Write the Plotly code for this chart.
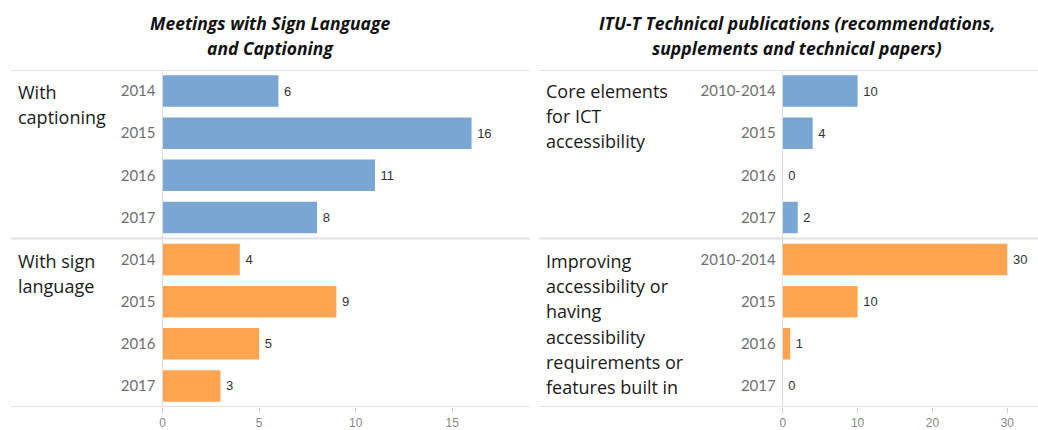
import plotly.graph_objects as go

# ---- data ----
meet_years = ["2014", "2015", "2016", "2017"]
with_captioning = [6, 16, 11, 8]
with_sign_language = [4, 9, 5, 3]

pub_periods = ["2010-2014", "2015", "2016", "2017"]
core_elements = [10, 4, 0, 2]
improving_access = [30, 10, 1, 0]

left_groups = ["With captioning", "With sign language"]
right_groups = ["Core elements", "Improving"]

left_ticks = [0, 5, 10, 15]
right_ticks = [0, 10, 20, 30]

BLUE = "#7aa6d4"
ORANGE = "#ffa552"
GRID = "#e2e2e2"
W, H = 1038, 430
TOP, BOT = 70, 407

def keys(group, cats):
    return [f"{group}|{c}" for c in cats]

fig = go.Figure()

lk1, lk2 = keys(left_groups[0], meet_years), keys(left_groups[1], meet_years)
rk1, rk2 = keys(right_groups[0], pub_periods), keys(right_groups[1], pub_periods)

val_font = dict(family="Liberation Sans, Arial", size=13, color="#333333")

for ks, vals, col, xa, ya in [
    (lk1, with_captioning, BLUE, "x", "y"),
    (lk2, with_sign_language, ORANGE, "x", "y"),
    (rk1, core_elements, BLUE, "x2", "y2"),
    (rk2, improving_access, ORANGE, "x2", "y2"),
]:
    fig.add_trace(go.Bar(
        x=vals, y=ks, orientation="h", marker=dict(color=col, line=dict(width=0)),
        text=["\u2009" + str(v) for v in vals], textposition="outside", textfont=val_font,
        cliponaxis=False, width=0.75, xaxis=xa, yaxis=ya, showlegend=False,
        hoverinfo="x+y",
    ))

year_font = dict(family="Lato", size=15, color="#707070")
tick_font = dict(family="Liberation Sans, Arial", size=12, color="#888888")

lx0, lx1 = 160 / W, 528 / W
rx0, rx1 = 782 / W, 1.0

fig.update_layout(
    width=W, height=H,
    margin=dict(l=0, r=0, t=TOP, b=H - BOT),
    plot_bgcolor="white", paper_bgcolor="white",
    bargap=0.25,
    xaxis=dict(domain=[lx0, lx1], range=[0, 19], tickvals=left_ticks,
               showgrid=False, zeroline=False, showline=False,
               ticks="outside", ticklen=5, tickcolor="#d0d0d0", tickfont=tick_font),
    yaxis=dict(domain=[0, 1], type="category", categoryarray=lk1 + lk2,
               range=[len(lk1 + lk2) - 0.5, -0.5],
               tickvals=lk1 + lk2, ticktext=meet_years + meet_years,
               tickfont=year_font, ticks="", showgrid=False, zeroline=False,
               showline=True, linecolor="#dcdcdc", linewidth=1, ticklabelstandoff=3),
    xaxis2=dict(domain=[rx0, rx1], range=[0, 34.1], tickvals=right_ticks,
                showgrid=False, zeroline=False, showline=False,
                ticks="outside", ticklen=5, tickcolor="#d0d0d0", tickfont=tick_font,
                anchor="y2"),
    yaxis2=dict(domain=[0, 1], type="category", categoryarray=rk1 + rk2,
                range=[len(rk1 + rk2) - 0.5, -0.5],
                tickvals=rk1 + rk2, ticktext=pub_periods + pub_periods,
                tickfont=year_font, ticks="", showgrid=False, zeroline=False,
                showline=True, linecolor="#dcdcdc", linewidth=1, anchor="x2",
                ticklabelstandoff=3),
)

# separator lines
shapes = []
for yv in [-0.5, 3.5, 7.5]:
    shapes.append(dict(type="line", xref="paper", yref="y", x0=8 / W, x1=528 / W,
                       y0=yv, y1=yv, line=dict(color=GRID, width=2), layer="below"))
    shapes.append(dict(type="line", xref="paper", yref="y2", x0=538 / W, x1=1.0,
                       y0=yv, y1=yv, line=dict(color=GRID, width=2), layer="below"))
fig.update_layout(shapes=shapes)

def py(p):
    return (BOT - p) / (BOT - TOP)

ann = []
title_font = dict(family="Open Sans", size=17.5, color="#111111", weight="bold", style="italic")
for txt, cx, cy in [("Meetings with Sign Language", 268, 23), ("and Captioning", 268, 48),
                    ("ITU-T Technical publications (recommendations,", 796, 23),
                    ("supplements and technical papers)", 796, 48)]:
    ann.append(dict(text=txt, x=cx / W, y=py(cy), xref="paper", yref="paper",
                    xanchor="center", yanchor="middle", showarrow=False, font=title_font))

grp_font = dict(family="Open Sans", size=18, color="#1a1a1a")
group_lines = [
    (["With", "captioning"], 13, 92),
    (["With sign", "language"], 13, 261),
    (["Core elements", "for ICT", "accessibility"], 543, 91),
    (["Improving", "accessibility or", "having", "accessibility",
      "requirements or", "features built in"], 543, 261),
]
for lines, lx, ly in group_lines:
    for i, t in enumerate(lines):
        ann.append(dict(text=t, x=lx / W, y=py(ly + 25.2 * i), xref="paper", yref="paper",
                        xanchor="left", yanchor="middle", showarrow=False, font=grp_font))
fig.update_layout(annotations=ann)

fig.write_html("out.html", config={"displayModeBar": False},
               post_script="document.body.style.margin='0';document.body.style.overflow='hidden';")
